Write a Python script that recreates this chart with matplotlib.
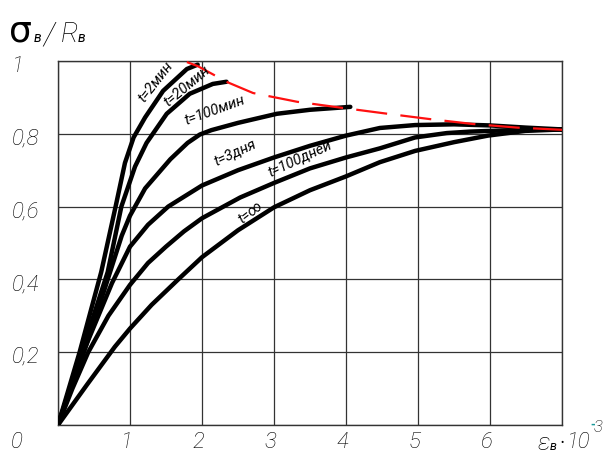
import numpy as np
import matplotlib.pyplot as plt
from matplotlib.transforms import blended_transform_factory

# шрифт - тонкий курсив (похоже на чертежный)
FONT = ['Roboto', 'DejaVu Sans']
plt.rcParams['font.family'] = FONT

# %% данные кривых
x_2min = [0, 0.3, 0.6, 0.8, 0.93, 1.05, 1.21, 1.46, 1.79, 1.94]
y_2min = [0, 0.2, 0.42, 0.6, 0.72, 0.79, 0.845, 0.918, 0.978, 0.99]

x_20min = [0, 0.33, 0.69, 0.88, 1.07, 1.23, 1.51, 1.83, 2.15, 2.34]
y_20min = [0, 0.2, 0.42, 0.6, 0.71, 0.775, 0.855, 0.91, 0.937, 0.943]

x_100min = [0, 0.36, 0.65, 0.885, 1.0, 1.21, 1.56, 1.8, 1.97, 2.13, 2.5, 3.04, 3.5, 4.06]
y_100min = [0, 0.2, 0.375, 0.52, 0.575, 0.65, 0.73, 0.775, 0.798, 0.81, 0.83, 0.855, 0.866, 0.874]

x_3d = [0, 0.35, 0.75, 0.9, 1.0, 1.25, 1.53, 2.0, 2.5, 3.0, 3.5, 4.0, 4.47, 4.96, 5.5, 6.0, 6.5, 7.0]
y_3d = [0, 0.2, 0.39, 0.45, 0.49, 0.55, 0.6, 0.658, 0.70, 0.735, 0.767, 0.795, 0.816, 0.824, 0.826, 0.823, 0.817, 0.812]

x_100d = [0, 0.2, 0.42, 0.7, 1.0, 1.25, 1.5, 1.75, 2.0, 2.53, 3.0, 3.5, 4.0, 4.47, 4.96, 5.4, 5.72, 6.3, 7.0]
y_100d = [0, 0.1, 0.2, 0.3, 0.385, 0.445, 0.49, 0.532, 0.568, 0.625, 0.665, 0.705, 0.735, 0.76, 0.79, 0.802, 0.806, 0.81, 0.812]

x_inf = [0, 0.4, 0.79, 1.0, 1.3, 1.67, 2.0, 2.5, 3.0, 3.5, 4.0, 4.47, 4.96, 5.5, 5.97, 6.49, 7.0]
y_inf = [0, 0.11, 0.215, 0.265, 0.33, 0.4, 0.461, 0.535, 0.598, 0.645, 0.683, 0.722, 0.753, 0.777, 0.795, 0.808, 0.812]

# огибающая (красный пунктир)
x_env = [1.79, 1.94, 2.35, 2.71, 3.32, 3.92, 4.54, 5.14, 5.76, 6.38, 7.0]
y_env = [0.997, 0.986, 0.942, 0.912, 0.888, 0.872, 0.856, 0.841, 0.827, 0.817, 0.811]

x_ticks = [1, 2, 3, 4, 5, 6]
y_ticks = [0.2, 0.4, 0.6, 0.8, 1.0]
y_tick_labels = ['0,2', '0,4', '0,6', '0,8', '1']

# %% подписи кривых: текст, x, y, угол
curve_labels = [
    ('t=2мин', 1.36, 0.942, 52),
    ('t=20мин', 1.79, 0.931, 40),
    ('t=100мин', 2.18, 0.865, 20),
    ('t=3дня', 2.46, 0.747, 25),
    ('t=100дней', 3.36, 0.731, 25),
    ('t=∞', 2.67, 0.585, 38),
]

W, H = 613, 455
fig = plt.figure(figsize=(W / 100, H / 100), dpi=100)
ax = fig.add_axes([58 / W, 30 / H, 504 / W, 364 / H])
ax.set_xlim(0, 7)
ax.set_ylim(0, 1)
ax.set_xticks(range(8))
ax.set_yticks(np.arange(0, 1.01, 0.2))
ax.grid(True, color='#333333', lw=0.9)
ax.tick_params(length=0, labelleft=False, labelbottom=False)
for s in ax.spines.values():
    s.set_color('#333333')
    s.set_linewidth(1)

# кривые
for xs, ys in [(x_2min, y_2min), (x_20min, y_20min), (x_100min, y_100min),
               (x_3d, y_3d), (x_100d, y_100d), (x_inf, y_inf)]:
    ax.plot(xs, ys, color='black', lw=3.2, solid_capstyle='round',
            solid_joinstyle='round', zorder=3)

ax.plot(x_env, y_env, color='#ff1010', lw=1.6, dashes=(14, 6), zorder=4)

for txt, x, y, rot in curve_labels:
    ax.text(x, y, txt, rotation=rot, rotation_mode='anchor', ha='center', va='center',
            fontsize=10.5, style='italic', zorder=5)

# подписи осей
ytr = blended_transform_factory(fig.transFigure, ax.transData)
for y, lab in zip(y_ticks, y_tick_labels):
    ax.text(12 / W, y - 0.014, lab, transform=ytr, ha='left', va='center',
            fontsize=16, style='italic', weight='light')
xtr = blended_transform_factory(ax.transData, fig.transFigure)
for x in x_ticks:
    ax.text(x - 0.05, 1 - 442 / H, str(x), transform=xtr, ha='center', va='center',
            fontsize=16, style='italic', weight='light')
fig.text(17 / W, 1 - 442 / H, '0', ha='center', va='center', fontsize=16,
         style='italic', weight='light')

# заголовок σв/Rв
fig.text(9 / W, 1 - 42 / H, 'σ', fontsize=26, va='baseline', family='DejaVu Sans')
fig.text(34 / W, 1 - 42 / H, 'в', fontsize=10, va='baseline', style='italic')
fig.text(43 / W, 1 - 44 / H, '/', fontsize=22, va='baseline', style='italic', weight='light')
fig.text(61 / W, 1 - 42 / H, 'R', fontsize=20, va='baseline', style='italic', weight='light')
fig.text(78 / W, 1 - 42 / H, 'в', fontsize=10, va='baseline', style='italic')

# ось x: εв·10^-3
fig.text(538 / W, 1 - 444 / H, 'ε', fontsize=17, va='center', style='italic', weight='light')
fig.text(550 / W, 1 - 446 / H, 'в', fontsize=9, va='center', style='italic')
fig.text(560 / W, 1 - 443 / H, '•', fontsize=7, va='center')
fig.text(567 / W, 1 - 442 / H, '10', fontsize=16, va='center', style='italic', weight='light')
fig.text(590 / W, 1 - 425 / H, '-', fontsize=9, va='center', color='#1a9a9a', weight='bold')
fig.text(594 / W, 1 - 427 / H, '3', fontsize=12, va='center', style='italic', weight='light')

fig.savefig('out.png', dpi=100)
